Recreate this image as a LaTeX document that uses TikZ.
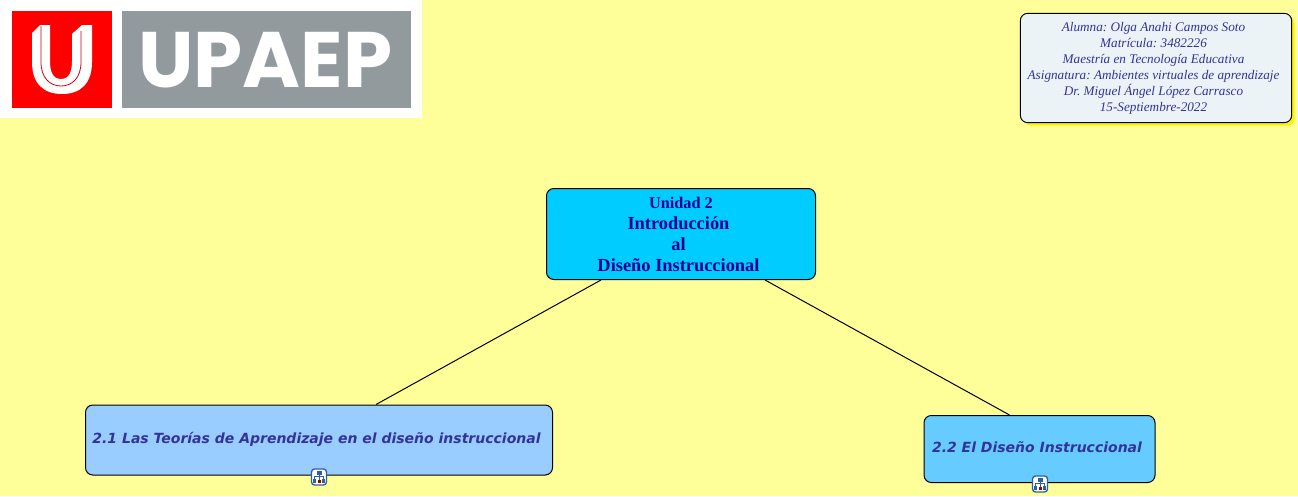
\documentclass[tikz,border=0pt]{standalone}
\usepackage{fontspec}
\setmainfont{Liberation Serif}
\newfontfamily\verdanafont{DejaVu Sans}
\newfontfamily\logofont{Poppins}
\usetikzlibrary{positioning}
\usetikzlibrary{shadows}
\definecolor{fondo}{HTML}{FFFF99}
\definecolor{logogris}{HTML}{939A9E}
\definecolor{tituloazul}{HTML}{00CCFF}
\definecolor{temauno}{HTML}{99CCFF}
\definecolor{temados}{HTML}{66CCFF}
\definecolor{notagris}{HTML}{EBF3F7}
\definecolor{textoazul}{HTML}{333399}
\definecolor{tituloletra}{HTML}{000099}
\definecolor{iconoazul}{HTML}{2F5F9F}
\frenchspacing
\newcommand{\lineanota}[1]{\raisebox{-0.75pt}{#1\hspace{3.75pt}}}
\newcommand{\lineatitulo}[1]{\fontsize{13.8}{15.75}\selectfont\mbox{#1\hspace{3.75pt}}}
\tikzset{
caja/.style={draw=black,rounded corners=5.5pt,line width=0.75pt,inner sep=0pt,align=center},
tema/.style={caja,text=textoazul,font=\verdanafont\fontsize{10.5}{13}\selectfont\bfseries\itshape},
mapicon/.pic={
\draw[draw=iconoazul,fill=white,rounded corners=2.25pt,line width=1pt] (-7.5,-8) rectangle (7.5,8);
\draw[draw=iconoazul,line width=0.6pt] (0,-3) -- (0,3) (-4.5,3) -- (-4.5,-0.5) -- (4.5,-0.5) -- (4.5,3);
\fill[iconoazul] (-2.5,-6) rectangle (2.5,-2.5);
\fill[iconoazul] (-6,2) rectangle (-3,5.5);
\fill[red!60!black] (-1.5,2.5) rectangle (1.5,5.5);
\fill[iconoazul] (3,2) rectangle (6,5.5);
}
}
\begin{document}
\begin{tikzpicture}[x=0.75pt,y=-0.75pt]
\useasboundingbox (0,0) rectangle (1298,496);
\fill[fondo] (0,0) rectangle (1298,496);
% logo
\fill[white] (0,0) rectangle (422,118);
\fill[red] (12,11) rectangle (112,108);
\fill[logogris] (122,11) rectangle (411,108);
\fill[white] (32,33) -- (40,25) -- (50,25) -- (50,61) .. controls (50,72) and (53,79) .. (61,79) .. controls (69,79) and (72,72) .. (72,61) -- (72,34) -- (82,25) -- (92,25) -- (92,62) .. controls (92,84) and (80,94) .. (62,94) .. controls (44,94) and (32,84) .. (32,62) -- cycle;
\draw[red!80!black,line width=0.6pt] (41,26) -- (41,62) .. controls (41,78) and (50,86) .. (61,86) .. controls (72,86) and (81,78) .. (81,62) -- (81,31);
\node[text=white,font=\logofont\fontsize{59}{59}\selectfont\bfseries,inner sep=0pt] (upaep) at (265.5,60.5) {UPAEP};
% nota
\node[caja,fill=notagris,text=textoazul,minimum width=203.5pt,minimum height=82pt,copy shadow={shadow xshift=2.25pt,shadow yshift=-2.25pt,fill=yellow,draw=none},font=\fontsize{9.9}{12}\selectfont\itshape] (nota) at (1156,68) {\lineanota{Alumna: Olga Anahi Campos Soto}\\\lineanota{Matrícula: 3482226}\\\lineanota{Maestría en Tecnología Educativa}\\\lineanota{Asignatura: Ambientes virtuales de aprendizaje}\\\lineanota{Dr. Miguel Ángel López Carrasco}\\\lineanota{15-Septiembre-2022}};
% titulo
\node[caja,fill=tituloazul,text=tituloletra,minimum width=201.75pt,minimum height=68.25pt,font=\bfseries] (titulo) at (681,234) {\fontsize{12.2}{15.75}\selectfont Unidad 2\\[3.75pt]\lineatitulo{Introducción}\\[3.75pt]\lineatitulo{al}\\[3.75pt]\lineatitulo{Diseño Instruccional}};
% temas
\node[tema,fill=temauno,minimum width=350.25pt,minimum height=52.5pt] (teorias) at (319,440) {\raisebox{3pt}{2.1 Las Teorías de Aprendizaje en el diseño instruccional\hspace{3.75pt}}};
\node[tema,fill=temados,minimum width=173.25pt,minimum height=50.25pt] (diseno) at (1039.5,449) {\raisebox{2.25pt}{2.2 El Diseño Instruccional\hspace{3.75pt}}};
\draw[line width=0.75pt] ([xshift=-60pt]titulo.south) -- ([xshift=42.75pt]teorias.north);
\draw[line width=0.75pt] ([xshift=63pt]titulo.south) -- ([xshift=-22.5pt]diseno.north);
\pic at (319,477) {mapicon};
\pic at (1040,484) {mapicon};
\end{tikzpicture}
\end{document}
